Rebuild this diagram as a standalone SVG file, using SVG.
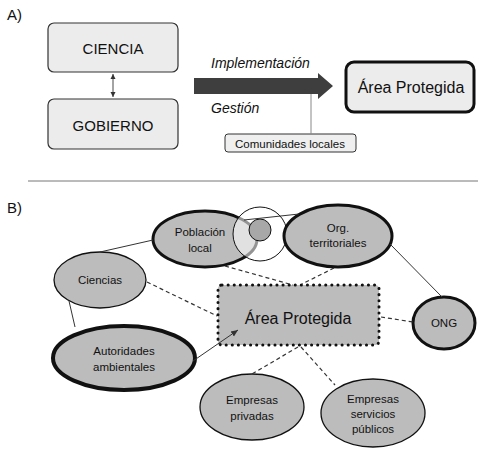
<svg xmlns="http://www.w3.org/2000/svg" width="478" height="449" viewBox="0 0 478 449">
<style>
text{font-family:"Liberation Sans",Arial,sans-serif;fill:#111;text-anchor:middle}
.lbl{text-anchor:start;font-size:15px}
.boxA{fill:#ececec;stroke:#333;stroke-width:1.2}
.ell{fill:#bcbcbc;stroke:#111}
.t{font-size:11.5px}
.solid{stroke:#333;stroke-width:1;fill:none}
.dash{stroke:#333;stroke-width:1.2;stroke-dasharray:4 3;fill:none}
.it{font-style:italic;font-size:14px;text-anchor:start}
</style>
<defs>
<marker id="ah" markerWidth="8" markerHeight="8" refX="7" refY="4" orient="auto" markerUnits="userSpaceOnUse">
<path d="M0,1 L7,4 L0,7 Z" fill="#333"/>
</marker>
<marker id="ahs" markerWidth="6" markerHeight="6" refX="5" refY="3" orient="auto-start-reverse" markerUnits="userSpaceOnUse">
<path d="M0,0.5 L5,3 L0,5.5 Z" fill="#333"/>
</marker>
</defs>

<text class="lbl" x="7" y="20">A)</text>
<text class="lbl" x="7" y="213">B)</text>
<line x1="28" y1="181" x2="478" y2="181" stroke="#777" stroke-width="1"/>

<g id="ciencia">
<rect class="boxA" x="48" y="23" width="130" height="49" rx="6"/>
<text x="113" y="54" font-size="15">CIENCIA</text>
</g>
<g id="gobierno">
<rect class="boxA" x="48" y="99" width="130" height="50" rx="6"/>
<text x="113" y="131" font-size="15">GOBIERNO</text>
</g>
<g id="implementacion">
<text class="it" x="211" y="68">Implementación</text>
</g>
<g id="gestion">
<text class="it" x="211" y="113">Gestión</text>
</g>
<g id="comunidades">
<rect x="225" y="134" width="131" height="18" rx="3" fill="#efefef" stroke="#333" stroke-width="1"/>
<text x="290" y="147.5" font-size="11.5">Comunidades locales</text>
</g>
<g id="area-a">
<rect x="346" y="62" width="128" height="50" rx="8" fill="#ececec" stroke="#111" stroke-width="3"/>
<text x="411" y="93" font-size="16">Área Protegida</text>
</g>

<g id="poblacion">
<ellipse class="ell" cx="205" cy="239" rx="52" ry="28" stroke-width="3"/>
<text class="t" x="200" y="236">Población</text>
<text class="t" x="200" y="252">local</text>
</g>
<g id="circulos">
<circle cx="260" cy="234" r="27" fill="#fff" fill-opacity="0.55" stroke="#111" stroke-width="1"/>
<circle cx="260" cy="230" r="11" fill="#a8a8a8" stroke="#111" stroke-width="1"/>
</g>
<g id="org">
<ellipse class="ell" cx="338" cy="236" rx="54" ry="31" stroke-width="3"/>
<text class="t" x="338" y="232">Org.</text>
<text class="t" x="338" y="247">territoriales</text>
</g>
<g id="ong">
<ellipse class="ell" cx="444" cy="323" rx="31" ry="26" stroke-width="3"/>
<text class="t" x="444" y="327">ONG</text>
</g>
<g id="ciencias">
<ellipse class="ell" cx="100" cy="280" rx="46" ry="28" stroke="#333" stroke-width="1.3"/>
<text class="t" x="100" y="284">Ciencias</text>
</g>
<g id="autoridades">
<ellipse class="ell" cx="124" cy="358" rx="71" ry="32" stroke-width="4"/>
<text class="t" x="124" y="355">Autoridades</text>
<text class="t" x="124" y="371">ambientales</text>
</g>
<g id="area-b">
<rect x="218" y="285" width="161" height="60" rx="4" fill="#bcbcbc" stroke="#111" stroke-width="3" stroke-dasharray="0.1 6" stroke-linecap="round"/>
<text x="298" y="324" font-size="16">Área Protegida</text>
</g>
<g id="privadas">
<ellipse class="ell" cx="252" cy="407" rx="52" ry="33" stroke="#333" stroke-width="1.3"/>
<text class="t" x="252" y="404">Empresas</text>
<text class="t" x="252" y="420">privadas</text>
</g>
<g id="servicios">
<ellipse class="ell" cx="373" cy="413" rx="52" ry="34" stroke="#333" stroke-width="1.3"/>
<text class="t" x="373" y="403">Empresas</text>
<text class="t" x="373" y="418">servicios</text>
<text class="t" x="373" y="433">públicos</text>
</g>

<g id="connectors">
<line x1="113" y1="74" x2="113" y2="97" stroke="#333" stroke-width="0.9" marker-start="url(#ahs)" marker-end="url(#ahs)"/>
<path d="M194,78 L318,78 L318,73 L333,86 L318,99 L318,94 L194,94 Z" fill="#3e3e3e"/>
<line x1="311" y1="94" x2="311" y2="134" stroke="#888" stroke-width="1"/>

<line class="solid" x1="100" y1="252" x2="153" y2="240"/>
<line class="solid" x1="69" y1="301" x2="75" y2="327"/>
<line class="solid" x1="244" y1="220" x2="299" y2="214"/>
<line class="solid" x1="390" y1="244" x2="442" y2="297"/>
<line class="solid" x1="193" y1="361" x2="238" y2="330" marker-end="url(#ah)"/>
<line class="dash" x1="147" y1="282" x2="217" y2="316"/>
<line class="dash" x1="225" y1="266" x2="293" y2="285"/>
<line class="dash" x1="334" y1="268" x2="302" y2="284"/>
<line class="dash" x1="381" y1="317" x2="413" y2="322"/>
<line class="dash" x1="298" y1="347" x2="252" y2="374"/>
<line class="dash" x1="301" y1="347" x2="335" y2="385"/>
</g>
</svg>
